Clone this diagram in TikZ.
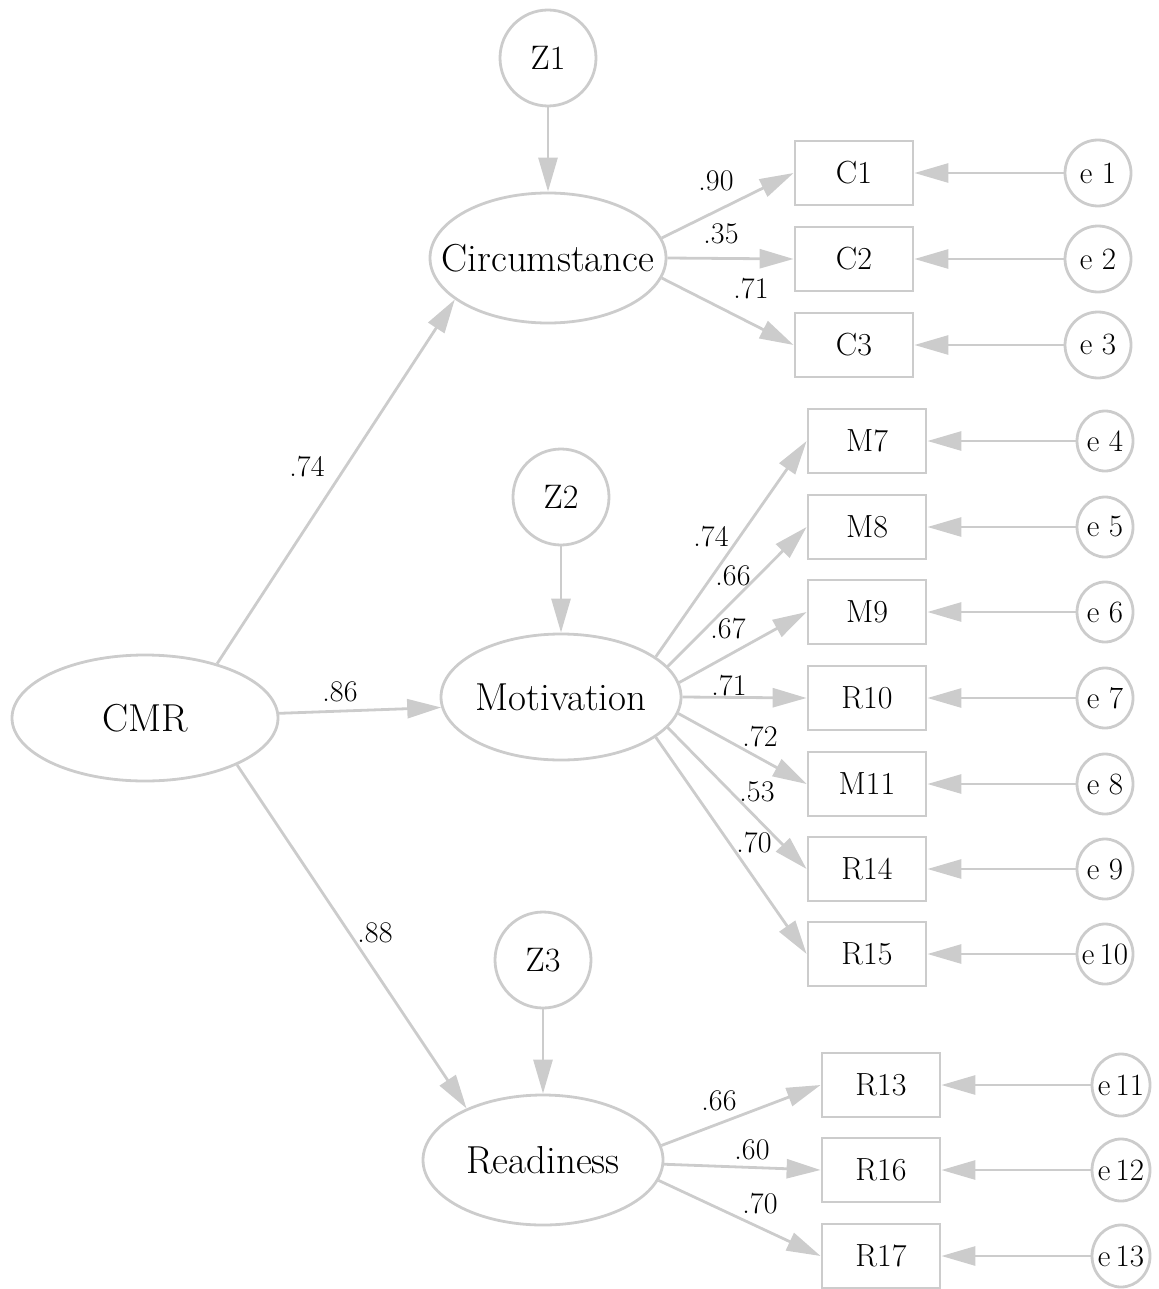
\documentclass[tikz,border=0pt]{standalone}
\usetikzlibrary{arrows.meta,shapes.geometric}
\definecolor{edgegray}{HTML}{CCCCCC}
\begin{document}
\begin{tikzpicture}[x=1pt,y=-1pt,
  latent/.style={ellipse,draw=edgegray,line width=2.8pt,inner sep=0pt,
    font=\fontsize{39}{46}\selectfont},
  dist/.style={circle,draw=edgegray,line width=2.8pt,inner sep=0pt,
    minimum size=96pt,font=\fontsize{34}{40}\selectfont},
  obs/.style={rectangle,draw=edgegray,line width=2.8pt,inner sep=0pt,
    minimum width=118pt,minimum height=64pt,font=\fontsize{32}{38}\selectfont},
  err/.style={ellipse,draw=edgegray,line width=2.8pt,inner sep=0pt,
    font=\fontsize{31}{36}\selectfont},
  lbl/.style={inner sep=0pt,font=\fontsize{30}{36}\selectfont},
  path/.style={draw=edgegray,line width=2.8pt,-{Triangle[length=34pt,width=19pt]}}
]
\useasboundingbox (0,0) rectangle (1158,1289);

% latent variables
\node[latent,minimum width=236pt,minimum height=130pt] (circ) at (548,258) {\makebox[0pt]{Circumstance}};
\node[latent,minimum width=266pt,minimum height=126pt] (cmr) at (145,718) {\makebox[0pt]{CMR}};
\node[latent,minimum width=240pt,minimum height=126pt] (mot) at (561,697) {\makebox[0pt]{Motivation}};
\node[latent,minimum width=240pt,minimum height=130pt] (read) at (543,1160) {\makebox[0pt]{Readiness}};

% disturbances
\node[dist] (z1) at (548,58) {Z1};
\node[dist] (z2) at (561,497) {Z2};
\node[dist] (z3) at (543,960) {Z3};

% indicators
\node[obs] (c1) at (854,173) {C1};
\node[obs] (c2) at (854,259) {C2};
\node[obs] (c3) at (854,345) {C3};
\node[obs] (m7) at (867,441) {M7};
\node[obs] (m8) at (867,527) {M8};
\node[obs] (m9) at (867,612) {M9};
\node[obs] (r10) at (867,698) {R10};
\node[obs] (m11) at (867,784) {M11};
\node[obs] (r14) at (867,869) {R14};
\node[obs] (r15) at (867,954) {R15};
\node[obs] (r13) at (881,1085) {R13};
\node[obs] (r16) at (881,1170) {R16};
\node[obs] (r17) at (881,1256) {R17};

% errors
\node[err,minimum width=66pt,minimum height=66pt] (e1) at (1098,173) {e 1};
\node[err,minimum width=66pt,minimum height=66pt] (e2) at (1098,259) {e 2};
\node[err,minimum width=66pt,minimum height=66pt] (e3) at (1098,345) {e 3};
\node[err,minimum width=56pt,minimum height=60pt] (e4) at (1105,441) {e 4};
\node[err,minimum width=56pt,minimum height=60pt] (e5) at (1105,527) {e 5};
\node[err,minimum width=56pt,minimum height=60pt] (e6) at (1105,612) {e 6};
\node[err,minimum width=56pt,minimum height=60pt] (e7) at (1105,698) {e 7};
\node[err,minimum width=56pt,minimum height=60pt] (e8) at (1105,784) {e 8};
\node[err,minimum width=56pt,minimum height=60pt] (e9) at (1105,869) {e 9};
\node[err,minimum width=56pt,minimum height=60pt] (e10) at (1105,954) {\makebox[0pt]{e\,10}};
\node[err,minimum width=58pt,minimum height=62pt] (e11) at (1121,1085) {\makebox[0pt]{e\,11}};
\node[err,minimum width=58pt,minimum height=62pt] (e12) at (1121,1170) {\makebox[0pt]{e\,12}};
\node[err,minimum width=58pt,minimum height=62pt] (e13) at (1121,1256) {\makebox[0pt]{e\,13}};

% structural paths
\draw[path] (z1) -- (circ);
\draw[path] (z2) -- (mot);
\draw[path] (z3) -- (read);
\draw[path] (cmr.37) -- (circ.204);
\draw[path] (cmr.2) -- (mot.185);
\draw[path] (cmr.-27) -- (read.146);

% loadings
\draw[path] (circ.10) -- (c1.west);
\draw[path] (circ.0) -- (c2.west);
\draw[path] (circ.-10) -- (c3.west);
\draw[path] (mot.23) -- (m7.west);
\draw[path] (mot.16) -- (m8.west);
\draw[path] (mot.7) -- (m9.west);
\draw[path] (mot.0) -- (r10.west);
\draw[path] (mot.-8) -- (m11.west);
\draw[path] (mot.-16) -- (r14.west);
\draw[path] (mot.-23) -- (r15.west);
\draw[path] (read.7) -- (r13.west);
\draw[path] (read.-2) -- (r16.west);
\draw[path] (read.-10) -- (r17.west);

% error paths
\foreach \e/\o in {e1/c1,e2/c2,e3/c3,e4/m7,e5/m8,e6/m9,e7/r10,e8/m11,e9/r14,e10/r15,e11/r13,e12/r16,e13/r17}
  \draw[path] (\e) -- (\o);

% labels
\node[lbl] (l1) at (307,467) {.74};
\node[lbl] (l2) at (340,692) {.86};
\node[lbl] (l3) at (375,933) {.88};
\node[lbl] (l4) at (716,181) {.90};
\node[lbl] (l5) at (721,234) {.35};
\node[lbl] (l6) at (751,289) {.71};
\node[lbl] (l7) at (711,537) {.74};
\node[lbl] (l8) at (733,576) {.66};
\node[lbl] (l9) at (728,629) {.67};
\node[lbl] (l10) at (729,686) {.71};
\node[lbl] (l11) at (760,737) {.72};
\node[lbl] (l12) at (757,792) {.53};
\node[lbl] (l13) at (754,843) {.70};
\node[lbl] (l14) at (719,1101) {.66};
\node[lbl] (l15) at (752,1150) {.60};
\node[lbl] (l16) at (760,1204) {.70};
\end{tikzpicture}
\end{document}
